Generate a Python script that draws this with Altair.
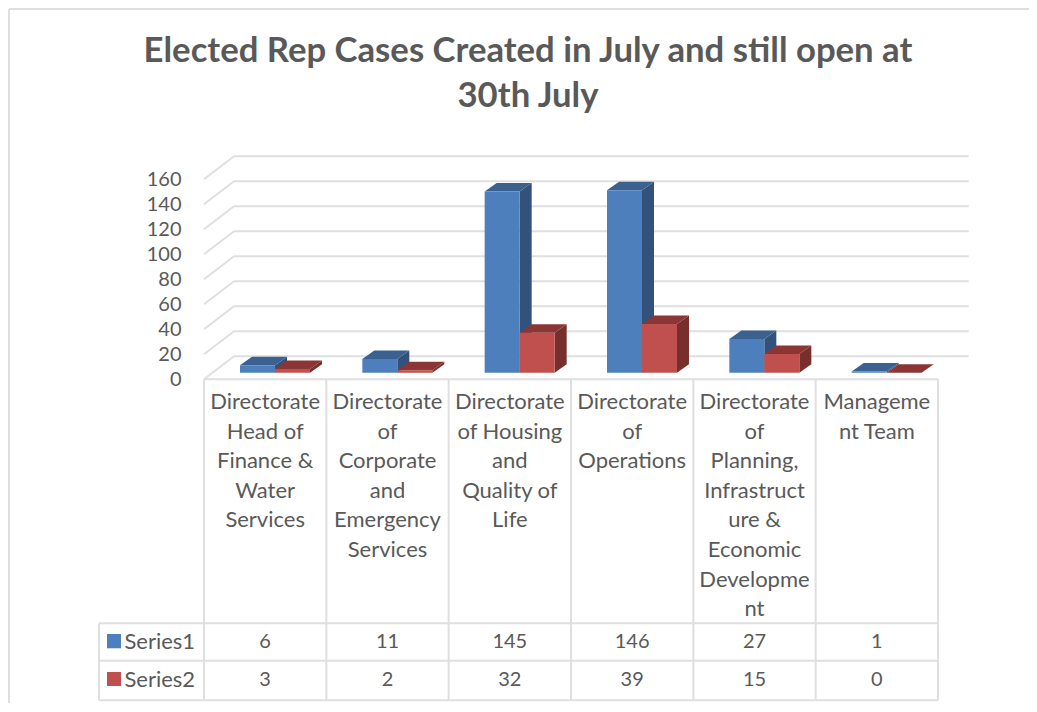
import altair as alt
import pandas as pd

# ---- values ----
categories = [
    "Directorate\nHead of\nFinance &\nWater\nServices",
    "Directorate\nof\nCorporate\nand\nEmergency\nServices",
    "Directorate\nof Housing\nand\nQuality of\nLife",
    "Directorate\nof\nOperations",
    "Directorate\nof\nPlanning,\nInfrastruct\nure &\nEconomic\nDevelopme\nnt",
    "Manageme\nnt Team",
]
series1 = [6, 11, 145, 146, 27, 1]
series2 = [3, 2, 32, 39, 15, 0]
series_names = ["Series1", "Series2"]
y_ticks = list(range(0, 161, 20))
title_lines = ["Elected Rep Cases Created in July and still open at", "30th July"]

# ---- colours and layout ----
FRONT = ["#4d7fbc", "#c0504d"]
SIDE = ["#32527c", "#772f2d"]
TOP = ["#3a6190", "#8b3634"]
GRID = "#dfdfdf"
TEXT = "#595959"
FONT = "Lato"

COL_W = 122.33   # px per category column
PX_U = 1.25      # px per value unit
X0, Y0 = 204.0, 379.3   # page position of column 0 / value 0


def ux(px):
    return (px - X0) / COL_W


def uy(px):
    return (Y0 - px) / PX_U


BACK_DX, BACK_DY = 30 / COL_W, 23 / PX_U       # wall offset
BASE = 6.6 / PX_U                              # bars stand in mid-floor
DEPTH_X, DEPTH_Y = 12 / COL_W, 8.5 / PX_U      # bar depth
BAR_W = 35 / COL_W
BAR_START = 36 / COL_W

# ---- bar faces -------------------------------------------------------------
faces = []
fid = 0


def face(points_x, lo, hi, colour):
    global fid
    for x, a, b in zip(points_x, lo, hi):
        faces.append({"id": fid, "x": x, "y": a, "y2": b, "c": colour})
    fid += 1


for i in range(len(categories)):
    for s, vals in enumerate([series1, series2]):
        v = vals[i]
        a = i + BAR_START + s * BAR_W
        b = a + BAR_W
        t = v + BASE
        # right side
        face([b, b + DEPTH_X], [BASE, BASE + DEPTH_Y], [t, t + DEPTH_Y], SIDE[s])
        # top
        face([a, a + DEPTH_X, b, b + DEPTH_X],
             [t, t, t, t + DEPTH_Y],
             [t, t + DEPTH_Y, t + DEPTH_Y, t + DEPTH_Y], TOP[s])
        # front
        face([a, b], [BASE, BASE], [t, t], FRONT[s])
faces_df = pd.DataFrame(faces)

# ---- grid lines, table lines, frame (all as two-point lines) ---------------
seg = []
sid = 0


def segment(x1, y1, x2, y2):
    global sid
    seg.append({"id": sid, "x": x1, "y": y1})
    seg.append({"id": sid, "x": x2, "y": y2})
    sid += 1


RIGHT_BACK = ux(968.7)
for t in y_ticks:
    segment(0, t, BACK_DX, t + BACK_DY)
    segment(BACK_DX, t + BACK_DY, RIGHT_BACK, t + BACK_DY)

ROW_T, ROW_M, ROW_B = uy(623.3), uy(660.8), uy(700.3)
LEFT = ux(99)
n = len(categories)
for i in range(n + 1):
    segment(i, 0.0, i, ROW_B)
segment(0, 0.0, n, 0.0)
for r in (ROW_T, ROW_M, ROW_B):
    segment(LEFT, r, n, r)
segment(LEFT, ROW_T, LEFT, ROW_B)

FR_L, FR_T, FR_R, FR_B = ux(9), uy(9), ux(1029), uy(703.5)
segment(FR_L, FR_T, FR_R, FR_T)
segment(FR_L, FR_T, FR_L, FR_B)
lines_df = pd.DataFrame(seg)

# ---- text ------------------------------------------------------------------
cat_df = pd.DataFrame({"x": [i + 0.5 for i in range(n)], "y": uy(392), "t": categories})
rows = []
for vals, yp in zip([series1, series2], [642, 680]):
    for i, v in enumerate(vals):
        rows.append({"x": i + 0.5, "y": uy(yp), "t": str(v)})
val_df = pd.DataFrame(rows)
leg_df = pd.DataFrame({"x": [ux(124.5)] * 2, "y": [uy(642), uy(680)], "t": series_names})
swatch_df = pd.DataFrame({
    "x": [ux(107)] * 2, "x2": [ux(121)] * 2,
    "y": [uy(634), uy(672)], "y2": [uy(648.3), uy(686)],
    "c": FRONT,
})

X = alt.Scale(domain=[0, 6], nice=False, zero=False)
Y = alt.Scale(domain=[0, 160], nice=False, zero=False)
Y_AXIS = alt.Axis(
    values=y_ticks, title=None, grid=False, domain=False, ticks=False,
    labelFont=FONT, labelFontSize=20, labelColor=TEXT, labelPadding=23,
    labelBaseline="middle",
)


def xe(f="x"):
    return alt.X(f"{f}:Q", scale=X, axis=None)


def ye(f="y"):
    return alt.Y(f"{f}:Q", scale=Y, axis=Y_AXIS)


lines_layer = alt.Chart(lines_df).mark_line(
    color=GRID, strokeWidth=2).encode(x=xe(), y=ye(), detail="id:N")

faces_layer = alt.Chart(faces_df).mark_area(opacity=1, line=False).encode(
    x=xe(), y=ye(), y2="y2:Q",
    color=alt.Color("c:N", scale=None),
    detail="id:N",
    order=alt.Order("id:Q"),
)

swatches = alt.Chart(swatch_df).mark_rect().encode(
    x=xe(), x2="x2:Q", y=ye(), y2="y2:Q", color=alt.Color("c:N", scale=None),
)

cat_text = alt.Chart(cat_df).mark_text(
    font=FONT, fontSize=22, color=TEXT, align="center", baseline="top",
    lineBreak="\n", lineHeight=29.6,
).encode(x=xe(), y=ye(), text="t:N")
val_text = alt.Chart(val_df).mark_text(
    font=FONT, fontSize=20, color=TEXT, align="center", baseline="middle",
).encode(x=xe(), y=ye(), text="t:N")
leg_text = alt.Chart(leg_df).mark_text(
    font=FONT, fontSize=22, color=TEXT, align="left", baseline="middle",
).encode(x=xe(), y=ye(), text="t:N")

chart = alt.layer(
    lines_layer, faces_layer, swatches, cat_text, val_text, leg_text,
).properties(
    width=734, height=200,
    autosize=alt.AutoSizeParams(type="none"),
    padding={"left": 196, "top": 171.3, "right": 91, "bottom": 324},
    background="white",
    title=alt.TitleParams(
        text=title_lines, font=FONT, fontSize=34.7, fontWeight="bold", color=TEXT,
        lineHeight=45, anchor="middle", dx=-43, dy=110, offset=0,
    ),
).configure_view(stroke=None)

chart.save("out.html", embed_options={"renderer": "svg", "actions": False})
